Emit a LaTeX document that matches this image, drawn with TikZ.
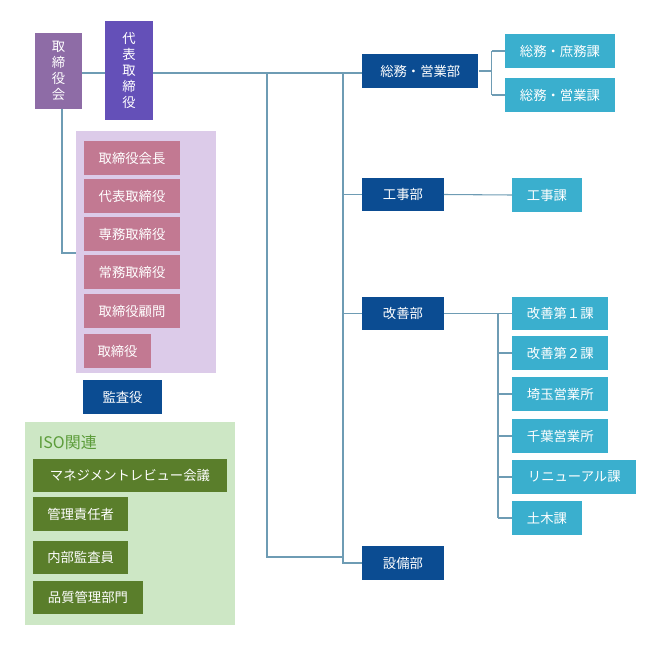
\documentclass[tikz,border=0pt]{standalone}
\usepackage{fontspec}
\setmainfont{Noto Sans CJK JP}
\definecolor{kaigi}{HTML}{8E6CA6}
\definecolor{daihyo}{HTML}{6450B8}
\definecolor{yaku}{HTML}{C27992}
\definecolor{yakubg}{HTML}{DCCBE9}
\definecolor{navy}{HTML}{0B4C92}
\definecolor{cyan}{HTML}{3AAFCE}
\definecolor{isobg}{HTML}{CDE7C5}
\definecolor{isobox}{HTML}{5A7E2B}
\definecolor{isotext}{HTML}{5C9C3A}
\definecolor{wire}{HTML}{6E9CB4}
\begin{document}
\begin{tikzpicture}[x=0.75pt, y=-0.75pt,
    box/.style={fill=#1, text=white, inner sep=0pt, font=\fontsize{10}{12}\selectfont},
    wire/.style={draw=wire, line width=0.8pt}]
        % Backgrounds
        \useasboundingbox (0,0) rectangle (664,646);
        \fill[yakubg] (76,131) rectangle (216,373);
        \fill[isobg] (25,422) rectangle (235,625);
        \node[text=isotext, anchor=west, font=\fontsize{12}{14}\selectfont] at (34,442) (iso) {ISO関連};

        % Board
        \node[box=kaigi, minimum width=35pt, minimum height=57pt, align=center] at (58.5,71) (kaigi) {取\\締\\役\\会};
        \node[box=daihyo, minimum width=36pt, minimum height=74pt, align=center] at (129,70.5) (daihyo) {代\\表\\取\\締\\役};

        % Directors
        \node[box=yaku, minimum width=72pt, minimum height=25pt] at (132,158) (kaicho) {取締役会長};
        \node[box=yaku, minimum width=72pt, minimum height=25pt] at (132,196) (dtori) {代表取締役};
        \node[box=yaku, minimum width=72pt, minimum height=25pt] at (132,234) (senmu) {専務取締役};
        \node[box=yaku, minimum width=72pt, minimum height=25pt] at (132,272) (jomu) {常務取締役};
        \node[box=yaku, minimum width=72pt, minimum height=25pt] at (132,311) (komon) {取締役顧問};
        \node[box=yaku, minimum width=50pt, minimum height=25pt] at (117.5,351) (tori) {取締役};
        \node[box=navy, minimum width=59pt, minimum height=25pt] at (122.5,397) (kansa) {監査役};

        % ISO
        \node[box=isobox, minimum width=145pt, minimum height=25pt, anchor=west] at (33,475.5) (review) {マネジメントレビュー会議};
        \node[box=isobox, minimum width=71pt, minimum height=25pt, anchor=west] at (33,514) (sekinin) {管理責任者};
        \node[box=isobox, minimum width=71pt, minimum height=25pt, anchor=west] at (33,557.5) (naibu) {内部監査員};
        \node[box=isobox, minimum width=82pt, minimum height=25pt, anchor=west] at (33,597.5) (hinshitsu) {品質管理部門};

        % Departments
        \node[box=navy, minimum width=87pt, minimum height=25pt, anchor=west] at (362,71) (somu) {総務・営業部};
        \node[box=navy, minimum width=61pt, minimum height=25pt, anchor=west] at (362,194.5) (koji) {工事部};
        \node[box=navy, minimum width=61pt, minimum height=25pt, anchor=west] at (362,313.5) (kaizen) {改善部};
        \node[box=navy, minimum width=61pt, minimum height=25pt, anchor=west] at (362,563) (setsubi) {設備部};

        % Sections
        \node[box=cyan, minimum width=82pt, minimum height=25pt, anchor=west] at (505,51) (shomu) {総務・庶務課};
        \node[box=cyan, minimum width=82pt, minimum height=25pt, anchor=west] at (505,95) (eigyo) {総務・営業課};
        \node[box=cyan, minimum width=52pt, minimum height=25pt, anchor=west] at (512,195) (kojika) {工事課};
        \node[box=cyan, minimum width=72pt, minimum height=25pt, anchor=west] at (512,313.5) (kaizen1) {改善第１課};
        \node[box=cyan, minimum width=72pt, minimum height=25pt, anchor=west] at (512,353) (kaizen2) {改善第２課};
        \node[box=cyan, minimum width=72pt, minimum height=25pt, anchor=west] at (512,394) (saitama) {埼玉営業所};
        \node[box=cyan, minimum width=72pt, minimum height=25pt, anchor=west] at (512,436) (chiba) {千葉営業所};
        \node[box=cyan, minimum width=93pt, minimum height=25pt, anchor=west] at (512,477) (renewal) {リニューアル課};
        \node[box=cyan, minimum width=52pt, minimum height=25pt, anchor=west] at (512,518) (doboku) {土木課};

        % Connectors
        \coordinate (top) at (267,73);
        \coordinate (bottom) at (267,557);
        \coordinate (trunk) at (343,73);
        \draw[wire] (kaigi.east |- 0,73) -- (daihyo.west |- 0,73);
        \draw[wire] (daihyo.east |- 0,73) -- (somu.west |- 0,73);
        \draw[wire] (top) -- (bottom) -| (trunk);
        \draw[wire] (kaigi.south -| 62,0) |- (76,253);
        \draw[wire] (trunk) |- (setsubi.west);
        \draw[wire] (trunk |- koji.west) -- (koji.west);
        \draw[wire] (trunk |- kaizen.west) -- (kaizen.west);
        \draw[wire] (somu.east) -- ++(13,0) coordinate (s1);
        \draw[wire] (s1 |- shomu.west) -- (s1 |- eigyo.west);
        \foreach \n in {shomu, eigyo} \draw[wire] (s1 |- \n.west) -- (\n.west);
        \draw[wire] (koji.east) -- (kojika.west);
        \draw[wire] (kaizen.east) -- (498,313.5) coordinate (k1);
        \draw[wire] (k1) -- (k1 |- doboku.west);
        \foreach \n in {kaizen1, kaizen2, saitama, chiba, renewal, doboku} \draw[wire] (k1 |- \n.west) -- (\n.west);
    \end{tikzpicture}
\end{document}
